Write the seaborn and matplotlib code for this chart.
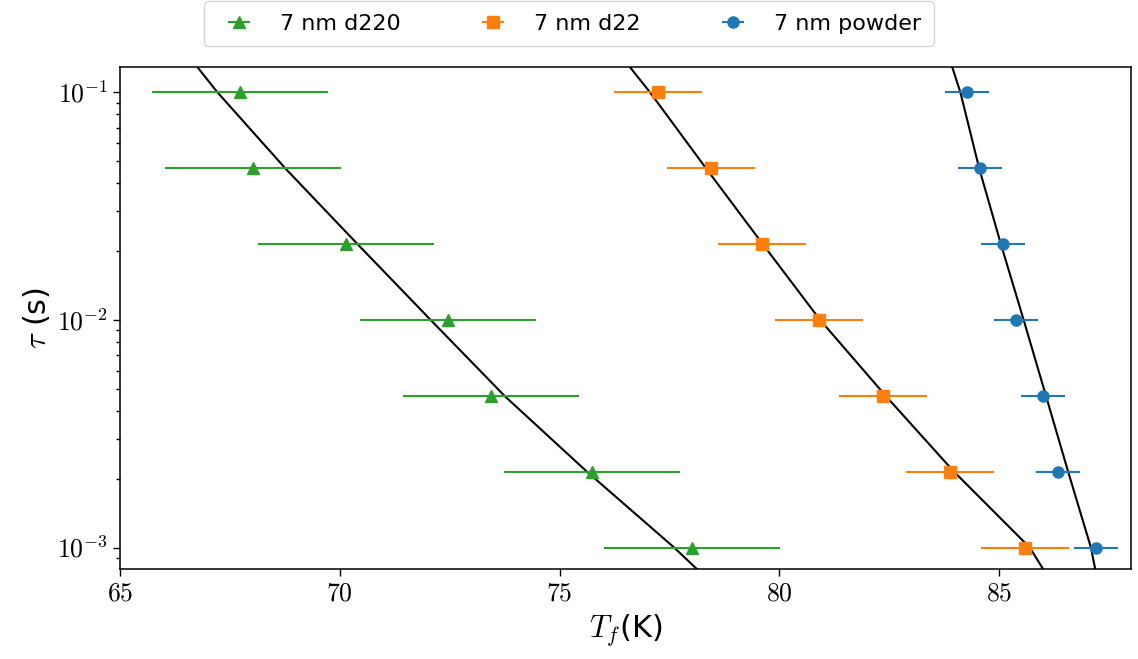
import matplotlib
matplotlib.use('Agg')
import matplotlib.pyplot as plt
import matplotlib.ticker as mticker
import numpy as np
import pandas as pd
import seaborn as sns

# measured relaxation times (s)
tau = [0.1, 0.0464, 0.0215, 0.01, 0.00464, 0.00215, 0.001]

# freezing temperatures (K)
tf_d220 = [67.73, 68.02, 70.14, 72.46, 73.44, 75.74, 78.02]
tf_d22 = [77.25, 78.44, 79.61, 80.91, 82.35, 83.89, 85.58]
tf_powder = [84.27, 84.57, 85.08, 85.38, 86.00, 86.35, 87.21]
err_d220 = 2.0
err_d22 = 1.0
err_powder = 0.5

# fit curves
tau_fit = [0.13, 0.1, 0.0462, 0.0216, 0.01, 0.00462, 0.00216, 0.001, 0.0008]
fit_d220 = [66.75, 67.22, 68.77, 70.40, 72.07, 73.76, 75.62, 77.61, 78.14]
fit_d22 = [76.59, 77.06, 78.34, 79.62, 80.93, 82.43, 83.97, 85.70, 86.01]
fit_powder = [83.93, 84.12, 84.55, 85.04, 85.56, 86.07, 86.57, 87.09, 87.19]

labels = ['7 nm d220', '7 nm d22', '7 nm powder']
colors = ['#2ca02c', '#ff7f0e', '#1f77b4']
markers = ['^', 's', 'o']

sns.set_style('ticks')
plt.rcParams['font.family'] = ['DejaVu Sans']
plt.rcParams['mathtext.fontset'] = 'cm'
plt.rcParams['axes.edgecolor'] = 'black'
plt.rcParams['xtick.color'] = 'black'
plt.rcParams['ytick.color'] = 'black'
plt.rcParams['text.color'] = 'black'
plt.rcParams['axes.labelcolor'] = 'black'

fig = plt.figure(figsize=(11.38, 6.59), dpi=100)
ax = fig.add_axes([0.1054, 0.1361, 0.8884, 0.7627])
ax.set_yscale('log')

fits = pd.DataFrame({'tau': tau_fit * 3,
                     'T': fit_d220 + fit_d22 + fit_powder,
                     'set': [l for l in labels for _ in tau_fit]})
for name in labels:
    sub = fits[fits['set'] == name]
    sns.lineplot(data=sub, x='T', y='tau', color='black', lw=1.5,
                 sort=False, estimator=None, ax=ax, legend=False)

handles = []
for x, e, c, m, l in zip([tf_d220, tf_d22, tf_powder],
                         [err_d220, err_d22, err_powder],
                         colors, markers, labels):
    h = ax.errorbar(x, tau, xerr=e, fmt=m, color=c, ms=8,
                    elinewidth=1.5, capsize=0, label=l, zorder=3)
    handles.append(h)

ax.set_xlim(65, 88)
ax.set_ylim(8.03e-4, 0.1297)
ax.set_xticks([65, 70, 75, 80, 85])
ax.xaxis.set_major_formatter(mticker.FuncFormatter(lambda v, p: r'$%d$' % v))
ax.yaxis.set_major_locator(mticker.FixedLocator([1e-3, 1e-2, 1e-1]))
ax.yaxis.set_major_formatter(
    mticker.FuncFormatter(lambda v, p: r'$10^{%d}$' % round(np.log10(v))))
ax.yaxis.set_minor_locator(mticker.LogLocator(base=10, subs=np.arange(2, 10)))
ax.yaxis.set_minor_formatter(mticker.NullFormatter())
ax.tick_params(axis='both', which='major', labelsize=18.5, length=4.8, width=1)
ax.tick_params(axis='y', which='minor', length=3, width=1)
for s in ax.spines.values():
    s.set_linewidth(1.1)
    s.set_visible(True)

ax.set_xlabel(r'$T_f$(K)', fontsize=22)
ax.set_ylabel(r'$\tau$ (s)', fontsize=22)

fig.legend(handles=handles, labels=labels, loc='upper center',
           bbox_to_anchor=(0.5, 1.0), ncol=3, fontsize=16,
           frameon=True, borderaxespad=0.05, borderpad=0.56,
           columnspacing=3.15, handletextpad=0.85)

fig.savefig('out.png', dpi=100)
